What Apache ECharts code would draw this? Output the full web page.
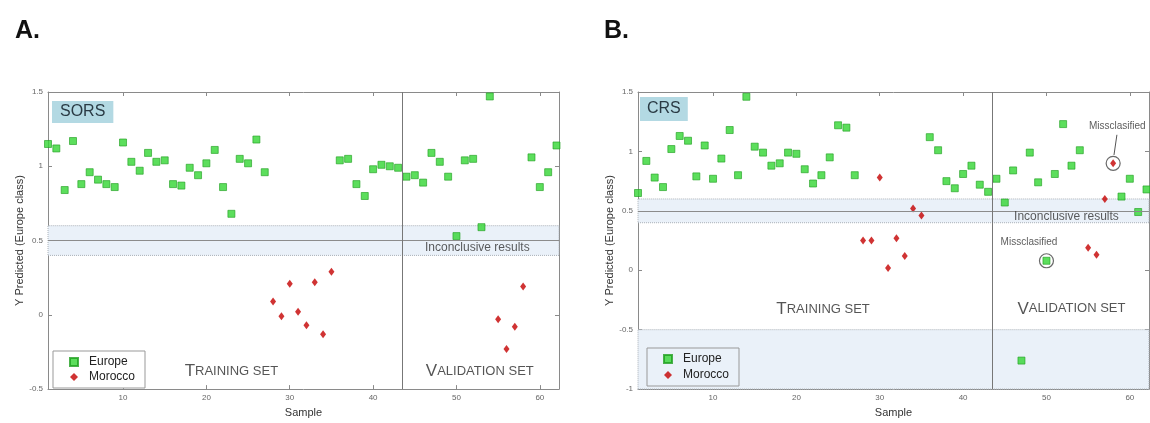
<!DOCTYPE html>
<html>
<head>
<meta charset="utf-8">
<script src="https://cdn.jsdelivr.net/npm/echarts@6/dist/echarts.min.js"></script>
<style>
html,body{margin:0;padding:0;background:#fff;}
#chart{width:1150px;height:423px;}
</style>
</head>
<body>
<div id="chart"></div>
<script>
// ---------- data ----------
const xTicks = [10, 20, 30, 40, 50, 60];
const validationStart = 43.5;
const inconclusiveBand = [0.4, 0.6];
const inconclusiveMid = 0.5;

// Panel A (SORS): [sample, Y predicted]
const europeA = [
  [1,1.15],[2,1.12],[3,0.84],[4,1.17],[5,0.88],[6,0.96],[7,0.91],[8,0.88],[9,0.86],[10,1.16],
  [11,1.03],[12,0.97],[13,1.09],[14,1.03],[15,1.04],[16,0.88],[17,0.87],[18,0.99],[19,0.94],[20,1.02],
  [21,1.11],[22,0.86],[23,0.68],[24,1.05],[25,1.02],[26,1.18],[27,0.96],
  [36,1.04],[37,1.05],[38,0.88],[39,0.80],[40,0.98],[41,1.01],[42,1.00],[43,0.99],
  [44,0.93],[45,0.94],[46,0.89],[47,1.09],[48,1.03],[49,0.93],[50,0.53],[51,1.04],[52,1.05],[53,0.59],[54,1.47],
  [59,1.06],[60,0.86],[61,0.96],[62,1.14]
];
const moroccoA = [
  [28,0.09],[29,-0.01],[30,0.21],[31,0.02],[32,-0.07],[33,0.22],[34,-0.13],[35,0.29],
  [55,-0.03],[56,-0.23],[57,-0.08],[58,0.19]
];

// Panel B (CRS)
const europeB = [
  [1,0.65],[2,0.92],[3,0.78],[4,0.70],[5,1.02],[6,1.13],[7,1.09],[8,0.79],[9,1.05],[10,0.77],
  [11,0.94],[12,1.18],[13,0.80],[14,1.46],[15,1.04],[16,0.99],[17,0.88],[18,0.90],[19,0.99],[20,0.98],
  [21,0.85],[22,0.73],[23,0.80],[24,0.95],[25,1.22],[26,1.20],[27,0.80],
  [36,1.12],[37,1.01],[38,0.75],[39,0.69],[40,0.81],[41,0.88],[42,0.72],[43,0.66],
  [44,0.77],[45,0.57],[46,0.84],[47,-0.76],[48,0.99],[49,0.74],[50,0.08],[51,0.81],[52,1.23],[53,0.88],[54,1.01],
  [59,0.62],[60,0.77],[61,0.49],[62,0.68]
];
const moroccoB = [
  [28,0.25],[29,0.25],[30,0.78],[31,0.02],[32,0.27],[33,0.12],[34,0.52],[35,0.46],
  [55,0.19],[56,0.13],[57,0.60],[58,0.90]
];
const misclassifiedB = [[50,0.08],[58,0.90]];
const lowerRegionB = [-1, -0.5];

// ---------- styles ----------
const FONT = 'Liberation Sans, Arial, sans-serif';
const GREEN = '#33d633', GREEN_EDGE = '#1f9f1f';
const RED = '#c40000';
const AXIS = '#8a8a8a';
const BAND = '#eaf1f9';

function xAxes(gridIndex) {
  const base = {
    type: 'value', gridIndex, min: 1, max: 62.3,
    axisLine: { show: true, onZero: false, lineStyle: { color: AXIS, width: 1 } },
    axisTick: { show: true, inside: true, length: 4, customValues: xTicks, lineStyle: { color: AXIS } },
    splitLine: { show: false }
  };
  return [
    Object.assign({}, base, {
      position: 'bottom',
      axisLabel: { show: true, customValues: xTicks, fontSize: 8, color: '#666', fontFamily: FONT, margin: 5 },
      name: 'Sample', nameLocation: 'middle', nameGap: 15,
      nameTextStyle: { fontSize: 11, color: '#333', fontFamily: FONT }
    }),
    Object.assign({}, base, { position: 'top', axisLabel: { show: false } })
  ];
}
function yAxes(gridIndex, min) {
  const base = {
    type: 'value', gridIndex, min, max: 1.5, interval: 0.5,
    axisLine: { show: true, onZero: false, lineStyle: { color: AXIS, width: 1 } },
    axisTick: { show: true, inside: true, length: 4, lineStyle: { color: AXIS } },
    splitLine: { show: false }
  };
  return [
    Object.assign({}, base, {
      position: 'left',
      axisLabel: { show: true, fontSize: 8, color: '#666', fontFamily: FONT, margin: 5 },
      name: 'Y Predicted (Europe class)', nameLocation: 'middle', nameGap: 22,
      nameTextStyle: { fontSize: 11, color: '#333', fontFamily: FONT }
    }),
    Object.assign({}, base, { position: 'right', axisLabel: { show: false } })
  ];
}

function bandSeries(xi, yi, extraAreas) {
  const areas = [[{ yAxis: inconclusiveBand[0] }, { yAxis: inconclusiveBand[1] }]].concat(extraAreas || []);
  return {
    type: 'scatter', name: 'bands' + xi, xAxisIndex: xi, yAxisIndex: yi, data: [], z: 1, silent: true,
    markArea: {
      silent: true,
      itemStyle: { color: BAND, borderColor: '#aab0b8', borderWidth: 1, borderType: 'dotted' },
      data: areas
    },
    markLine: {
      silent: true, symbol: 'none', label: { show: false },
      lineStyle: { color: '#8c8c8c', type: 'solid', width: 1 },
      data: [{ yAxis: inconclusiveMid }, { xAxis: validationStart, lineStyle: { color: '#777' } }]
    }
  };
}
function pointSeries(name, data, xi, yi) {
  const isEu = name === 'Europe';
  return {
    type: 'scatter', name, data, xAxisIndex: xi, yAxisIndex: yi, z: 4,
    symbol: isEu ? 'rect' : 'diamond',
    symbolSize: isEu ? 7 : [6, 8],
    itemStyle: isEu ? { color: GREEN, borderColor: GREEN_EDGE, borderWidth: 0.8 } : { color: RED },
    emphasis: { disabled: true }
  };
}
function textSeries(xi, yi, items) {
  return {
    type: 'scatter', name: 'text' + xi, xAxisIndex: xi, yAxisIndex: yi, z: 5, silent: true,
    symbolSize: 0,
    data: items.map(it => ({ value: [it.x, it.y], name: it.text, label: { fontSize: it.size || 12 } })),
    label: {
      show: true, position: 'inside', formatter: '{b}',
      fontFamily: FONT, color: '#333', fontSize: 12,
      rich: {
        b: { fontSize: 17, color: '#2a2a2a', fontFamily: FONT },
        s: { fontSize: 13, color: '#2a2a2a', fontFamily: FONT }
      }
    }
  };
}
const smallCaps = (first, rest) => '{b|' + first + '}{s|' + rest + '}';

const option = {
  animation: false,
  backgroundColor: '#fff',
  title: [
    { text: 'A.', left: 10, top: 14, textStyle: { fontSize: 25, fontWeight: 'bold', color: '#111', fontFamily: FONT } },
    { text: 'B.', left: 599, top: 14, textStyle: { fontSize: 25, fontWeight: 'bold', color: '#111', fontFamily: FONT } },
    { text: 'SORS', left: 52, top: 101, backgroundColor: '#b3d9e3', padding: [3, 8],
      textStyle: { fontSize: 16, fontWeight: 'normal', color: '#2a3a44', fontFamily: FONT } },
    { text: 'CRS', left: 640, top: 97, backgroundColor: '#b3d9e3', padding: [4, 7],
      textStyle: { fontSize: 16, fontWeight: 'normal', color: '#2a3a44', fontFamily: FONT } }
  ],
  legend: [
    { data: ['Europe', 'Morocco'], orient: 'vertical', left: 53, top: 351, itemGap: 3,
      itemWidth: 8, itemHeight: 8, padding: [5, 10, 5, 16], borderColor: '#999', borderWidth: 1,
      backgroundColor: '#fff', selectedMode: false,
      textStyle: { fontSize: 12, color: '#222', fontFamily: FONT, padding: [0, 0, 0, 6] } },
    { data: ['Europe', 'Morocco'], orient: 'vertical', left: 647, top: 348, itemGap: 4,
      itemWidth: 8, itemHeight: 8, padding: [5, 10, 5, 16], borderColor: '#999', borderWidth: 1,
      backgroundColor: 'transparent', selectedMode: false,
      textStyle: { fontSize: 12, color: '#222', fontFamily: FONT, padding: [0, 0, 0, 6] } }
  ],
  grid: [
    { left: 48, top: 92, width: 511, height: 303 },
    { left: 638, top: 92, width: 511, height: 303 }
  ],
  xAxis: xAxes(0).concat(xAxes(1)),
  yAxis: yAxes(0, -0.5).concat(yAxes(1, -1)),
  series: [
    bandSeries(0, 0),
    pointSeries('Europe', europeA, 0, 0),
    pointSeries('Morocco', moroccoA, 0, 0),
    textSeries(0, 0, [
      { x: 52.5, y: 0.455, text: 'Inconclusive results' },
      { x: 23.0, y: -0.38, text: smallCaps('T', 'RAINING SET') },
      { x: 52.8, y: -0.38, text: smallCaps('V', 'ALIDATION SET') }
    ]),

    bandSeries(2, 2, [[{ yAxis: lowerRegionB[0] }, { yAxis: lowerRegionB[1] }]]),
    pointSeries('Europe', europeB, 2, 2),
    pointSeries('Morocco', moroccoB, 2, 2),
    {
      type: 'scatter', name: 'circles', data: misclassifiedB, xAxisIndex: 2, yAxisIndex: 2, z: 3,
      symbol: 'circle', symbolSize: 14, silent: true,
      itemStyle: { color: 'rgba(0,0,0,0)', borderColor: '#444', borderWidth: 1.2 }
    },
    {
      type: 'line', name: 'pointer', xAxisIndex: 2, yAxisIndex: 2, z: 3, silent: true,
      data: [[58.45, 1.14], [58.1, 0.97]], symbol: 'none',
      lineStyle: { color: '#555', width: 1 }
    },
    textSeries(2, 2, [
      { x: 52.4, y: 0.455, text: 'Inconclusive results' },
      { x: 23.2, y: -0.33, text: smallCaps('T', 'RAINING SET') },
      { x: 53.0, y: -0.325, text: smallCaps('V', 'ALIDATION SET') },
      { x: 58.5, y: 1.215, text: 'Missclasified', size: 10 },
      { x: 47.9, y: 0.236, text: 'Missclasified', size: 10 }
    ])
  ]
};

const chart = echarts.init(document.getElementById('chart'), null, { renderer: 'canvas' });
chart.setOption(option);
</script>
</body>
</html>
